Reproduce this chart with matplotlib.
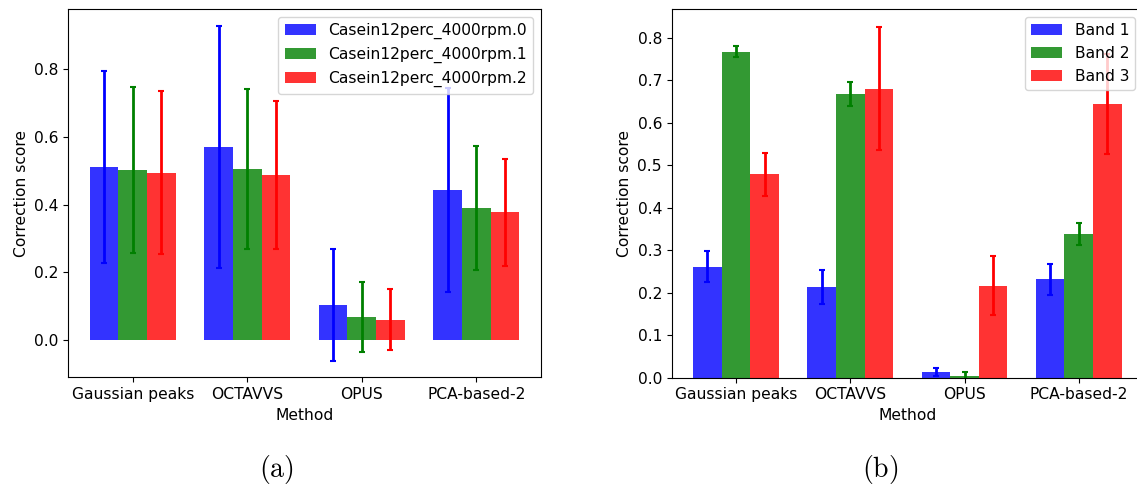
import matplotlib
matplotlib.use('Agg')
import matplotlib.pyplot as plt
import numpy as np

plt.rcParams['font.size'] = 11.2
plt.rcParams['mathtext.fontset'] = 'cm'

# ==== data ====
methods = ['Gaussian peaks', 'OCTAVVS', 'OPUS', 'PCA-based-2']

casein_labels = ['Casein12perc_4000rpm.0', 'Casein12perc_4000rpm.1', 'Casein12perc_4000rpm.2']
casein0 = [0.511, 0.570, 0.104, 0.443]
casein0_err = [0.282, 0.357, 0.164, 0.301]
casein1 = [0.501, 0.504, 0.068, 0.390]
casein1_err = [0.245, 0.236, 0.103, 0.184]
casein2 = [0.494, 0.487, 0.060, 0.377]
casein2_err = [0.241, 0.219, 0.090, 0.159]

band_labels = ['Band 1', 'Band 2', 'Band 3']
band1 = [0.261, 0.213, 0.013, 0.231]
band1_err = [0.037, 0.040, 0.010, 0.037]
band2 = [0.767, 0.668, 0.004, 0.337]
band2_err = [0.013, 0.028, 0.010, 0.026]
band3 = [0.478, 0.680, 0.216, 0.643]
band3_err = [0.050, 0.145, 0.069, 0.118]

colors = ['blue', 'green', 'red']
x = np.arange(len(methods))
w = 0.25


def draw(ax, series, errs, labels):
    for i, (vals, err, lab) in enumerate(zip(series, errs, labels)):
        ax.bar(x + (i - 1) * w, vals, width=w, yerr=err, color=colors[i],
               alpha=0.8, label=lab,
               error_kw=dict(ecolor=colors[i], elinewidth=2, capsize=2.5, capthick=1.5))
    ax.set_xticks(x)
    ax.set_xticklabels(methods)
    ax.set_xlabel('Method')
    ax.set_ylabel('Correction score')
    ax.legend(loc='upper right')


fig = plt.figure(figsize=(11.37, 4.86), dpi=100)
ax1 = fig.add_axes([0.0601, 0.2237, 0.4155, 0.7572])
ax2 = fig.add_axes([0.5908, 0.2230, 0.4145, 0.7580])

draw(ax1, [casein0, casein1, casein2], [casein0_err, casein1_err, casein2_err], casein_labels)
draw(ax2, [band1, band2, band3], [band1_err, band2_err, band3_err], band_labels)
ax2.set_ylim(bottom=0)

fig.text(276 / 1137, 1 - 469 / 486, r'$\mathrm{(a)}$', fontsize=20, ha='center', va='center')
fig.text(880 / 1137, 1 - 469 / 486, r'$\mathrm{(b)}$', fontsize=20, ha='center', va='center')

fig.savefig('out.png', dpi=100)
